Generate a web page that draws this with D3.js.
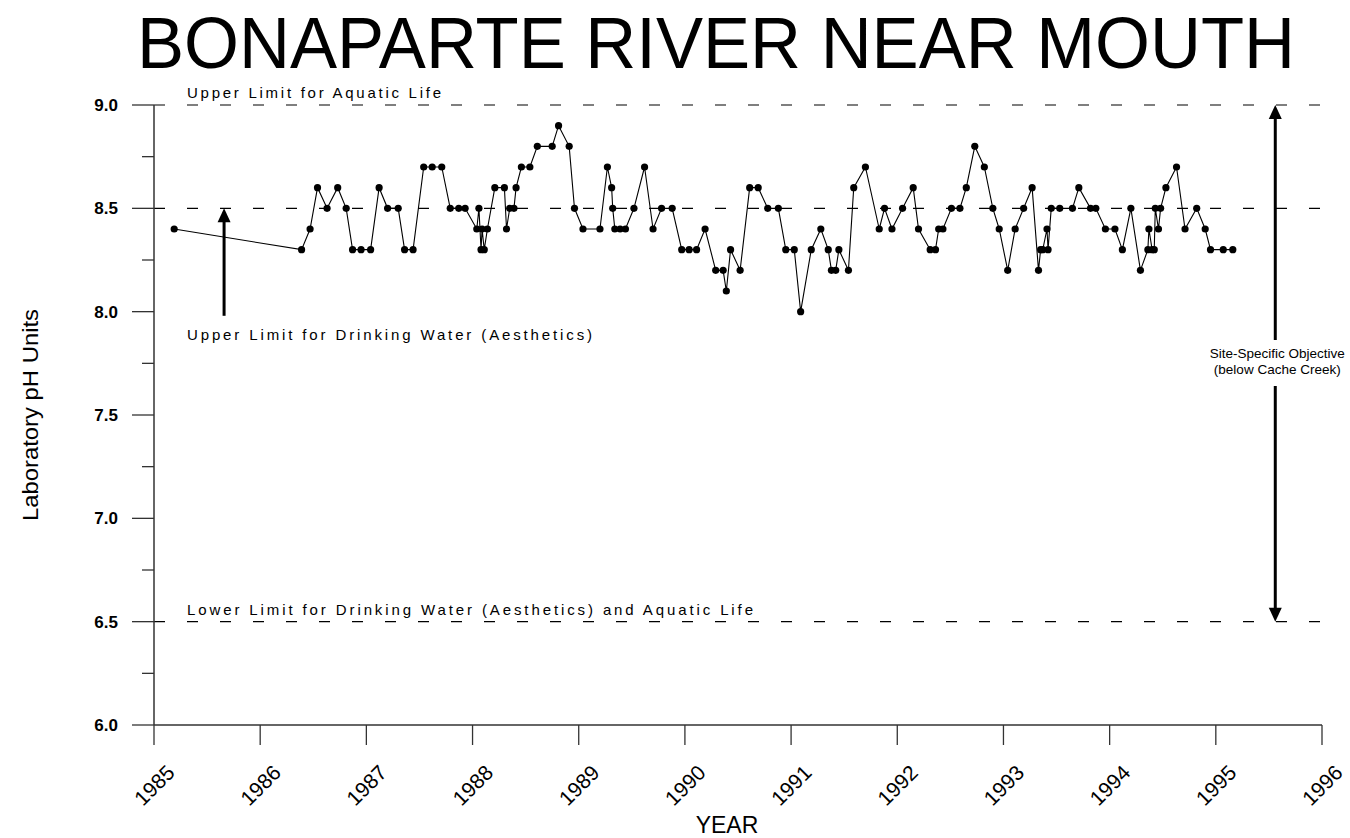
<!DOCTYPE html>
<html>
<head>
<meta charset="utf-8">
<script src="https://cdn.jsdelivr.net/npm/d3@7"></script>
<style>
  body { margin: 0; background: #fff; }
  svg { display: block; }
  text { font-family: "Liberation Sans", Arial, sans-serif; fill: #000; }
</style>
</head>
<body>
<svg id="chart" width="1350" height="838"></svg>
<script>
// ---- data ----
const title = "BONAPARTE RIVER NEAR MOUTH";
const years = [1985.19,1986.39,1986.47,1986.54,1986.63,1986.73,1986.81,1986.87,1986.95,1987.04,
  1987.12,1987.20,1987.30,1987.36,1987.44,1987.54,1987.62,1987.71,1987.79,1987.87,
  1987.93,1988.04,1988.06,1988.08,1988.09,1988.11,1988.14,1988.21,1988.30,1988.32,
  1988.35,1988.39,1988.41,1988.46,1988.54,1988.61,1988.75,1988.81,1988.91,1988.96,
  1989.04,1989.20,1989.27,1989.31,1989.32,1989.34,1989.39,1989.44,1989.52,1989.62,
  1989.70,1989.78,1989.88,1989.97,1990.04,1990.11,1990.19,1990.29,1990.36,1990.39,
  1990.43,1990.52,1990.61,1990.69,1990.78,1990.88,1990.95,1991.03,1991.09,1991.19,
  1991.28,1991.35,1991.38,1991.42,1991.45,1991.54,1991.59,1991.70,1991.83,1991.88,
  1991.95,1992.05,1992.15,1992.20,1992.31,1992.36,1992.39,1992.43,1992.51,1992.59,
  1992.65,1992.73,1992.82,1992.90,1992.96,1993.04,1993.11,1993.19,1993.27,1993.33,
  1993.35,1993.37,1993.41,1993.42,1993.45,1993.53,1993.65,1993.71,1993.82,1993.87,
  1993.96,1994.05,1994.12,1994.20,1994.29,1994.36,1994.37,1994.40,1994.42,1994.43,
  1994.46,1994.48,1994.53,1994.63,1994.71,1994.82,1994.90,1994.95,1995.07,1995.16];
const ph = [8.4,8.3,8.4,8.6,8.5,8.6,8.5,8.3,8.3,8.3,
  8.6,8.5,8.5,8.3,8.3,8.7,8.7,8.7,8.5,8.5,
  8.5,8.4,8.5,8.3,8.4,8.3,8.4,8.6,8.6,8.4,
  8.5,8.5,8.6,8.7,8.7,8.8,8.8,8.9,8.8,8.5,
  8.4,8.4,8.7,8.6,8.5,8.4,8.4,8.4,8.5,8.7,
  8.4,8.5,8.5,8.3,8.3,8.3,8.4,8.2,8.2,8.1,
  8.3,8.2,8.6,8.6,8.5,8.5,8.3,8.3,8.0,8.3,
  8.4,8.3,8.2,8.2,8.3,8.2,8.6,8.7,8.4,8.5,
  8.4,8.5,8.6,8.4,8.3,8.3,8.4,8.4,8.5,8.5,
  8.6,8.8,8.7,8.5,8.4,8.2,8.4,8.5,8.6,8.2,
  8.3,8.3,8.4,8.3,8.5,8.5,8.5,8.6,8.5,8.5,
  8.4,8.4,8.3,8.5,8.2,8.3,8.4,8.3,8.3,8.5,
  8.4,8.5,8.6,8.7,8.4,8.5,8.4,8.3,8.3,8.3];
const yearTicks = [1985,1986,1987,1988,1989,1990,1991,1992,1993,1994,1995,1996];
const phTicks = [6.0,6.5,7.0,7.5,8.0,8.5,9.0];
const phMinorTicks = [6.25,6.75,7.25,7.75,8.25,8.75];
const limits = [
  {value: 9.0, label: "Upper Limit for Aquatic Life"},
  {value: 8.5, label: ""},
  {value: 6.5, label: "Lower Limit for Drinking Water (Aesthetics) and Aquatic Life"}
];
const drinkingArrow = {year: 1985.66, from: 7.98, to: 8.5, label: "Upper Limit for Drinking Water (Aesthetics)"};
const siteArrow = {year: 1995.56, from: 6.5, to: 9.0, label: ["Site-Specific Objective", "(below Cache Creek)"]};

// ---- chart ----
const svg = d3.select("#chart");
const x = d3.scaleLinear().domain([1985, 1996]).range([154, 1322]);
const y = d3.scaleLinear().domain([6.0, 9.0]).range([725, 105]);

// title
svg.append("text").attr("x", 137).attr("y", 68)
  .attr("font-size", 72).attr("textLength", 1158).attr("lengthAdjust", "spacingAndGlyphs")
  .text(title);

// limit lines
svg.selectAll("line.limit").data(limits).enter().append("line")
  .attr("x1", x(1985)).attr("x2", x(1996))
  .attr("y1", d => y(d.value)).attr("y2", d => y(d.value))
  .attr("stroke", "#000").attr("stroke-width", 1.2).attr("stroke-dasharray", "11,22");

const labelLengths = {"Upper Limit for Aquatic Life": 254,
  "Lower Limit for Drinking Water (Aesthetics) and Aquatic Life": 566};
svg.selectAll("text.limit").data(limits.filter(d => d.label)).enter().append("text")
  .attr("x", 187).attr("y", d => y(d.value) - 7)
  .attr("font-size", 15).attr("textLength", d => labelLengths[d.label])
  .attr("lengthAdjust", "spacing")
  .text(d => d.label);

// axes
const yAxis = svg.append("g").attr("transform", `translate(${x(1985)},0)`);
yAxis.append("line").attr("y1", y(9.0)).attr("y2", y(6.0)).attr("stroke", "#333").attr("stroke-width", 1.5);
yAxis.selectAll("line.maj").data(phTicks).enter().append("line")
  .attr("x1", -22).attr("x2", 0).attr("y1", d => y(d)).attr("y2", d => y(d))
  .attr("stroke", "#333").attr("stroke-width", 1.3);
yAxis.selectAll("line.min").data(phMinorTicks).enter().append("line")
  .attr("x1", -12).attr("x2", 0).attr("y1", d => y(d)).attr("y2", d => y(d))
  .attr("stroke", "#333").attr("stroke-width", 1.3);
yAxis.selectAll("text").data(phTicks).enter().append("text")
  .attr("x", -36).attr("y", d => y(d) + 6).attr("text-anchor", "end")
  .attr("font-size", 17).attr("font-weight", "bold")
  .text(d => d3.format(".1f")(d));

const xAxis = svg.append("g").attr("transform", `translate(0,${y(6.0)})`);
xAxis.append("line").attr("x1", x(1985)).attr("x2", x(1996)).attr("stroke", "#333").attr("stroke-width", 1.5);
xAxis.selectAll("line.t").data(yearTicks).enter().append("line")
  .attr("x1", d => x(d)).attr("x2", d => x(d)).attr("y1", 0).attr("y2", 20)
  .attr("stroke", "#333").attr("stroke-width", 1.3);
xAxis.selectAll("text").data(yearTicks).enter().append("text")
  .attr("transform", d => `translate(${x(d) + 22},${49}) rotate(-45)`)
  .attr("text-anchor", "end").attr("font-size", 21)
  .text(d => d);

// axis titles
svg.append("text").attr("x", 727).attr("y", 833).attr("text-anchor", "middle")
  .attr("font-size", 23).text("YEAR");
svg.append("text").attr("transform", "translate(38,415) rotate(-90)")
  .attr("text-anchor", "middle").attr("font-size", 22)
  .attr("textLength", 212).attr("lengthAdjust", "spacingAndGlyphs")
  .text("Laboratory pH Units");

// data line + points
const pts = years.map((d, i) => [d, ph[i]]);
svg.append("path").datum(pts)
  .attr("d", d3.line().x(d => x(d[0])).y(d => y(d[1])))
  .attr("fill", "none").attr("stroke", "#000").attr("stroke-width", 1.1);
svg.selectAll("circle.pt").data(pts).enter().append("circle")
  .attr("cx", d => x(d[0])).attr("cy", d => y(d[1])).attr("r", 3.6).attr("fill", "#000");

// arrows
function arrowHead(px, py, dir) { // dir -1 up, +1 down
  const h = 14, w = 6.5;
  return `M${px},${py} L${px - w},${py - dir * h} L${px + w},${py - dir * h} Z`;
}
const ax = x(drinkingArrow.year);
svg.append("line").attr("x1", ax).attr("x2", ax)
  .attr("y1", y(drinkingArrow.from)).attr("y2", y(drinkingArrow.to) + 10)
  .attr("stroke", "#000").attr("stroke-width", 3);
svg.append("path").attr("d", arrowHead(ax, y(drinkingArrow.to), -1)).attr("fill", "#000");
svg.append("text").attr("x", 187).attr("y", y(drinkingArrow.from) + 24)
  .attr("font-size", 15).attr("textLength", 405).attr("lengthAdjust", "spacing")
  .text(drinkingArrow.label);

const sx = x(siteArrow.year);
svg.append("line").attr("x1", sx).attr("x2", sx)
  .attr("y1", y(siteArrow.to) + 8).attr("y2", 340)
  .attr("stroke", "#000").attr("stroke-width", 3);
svg.append("line").attr("x1", sx).attr("x2", sx)
  .attr("y1", 386).attr("y2", y(siteArrow.from) - 8)
  .attr("stroke", "#000").attr("stroke-width", 3);
svg.append("path").attr("d", arrowHead(sx, y(siteArrow.to), -1)).attr("fill", "#000");
svg.append("path").attr("d", arrowHead(sx, y(siteArrow.from), 1)).attr("fill", "#000");
svg.selectAll("text.site").data(siteArrow.label).enter().append("text")
  .attr("x", sx + 2).attr("y", (d, i) => 358 + i * 16)
  .attr("text-anchor", "middle").attr("font-size", 13.5)
  .text(d => d);
</script>
</body>
</html>
